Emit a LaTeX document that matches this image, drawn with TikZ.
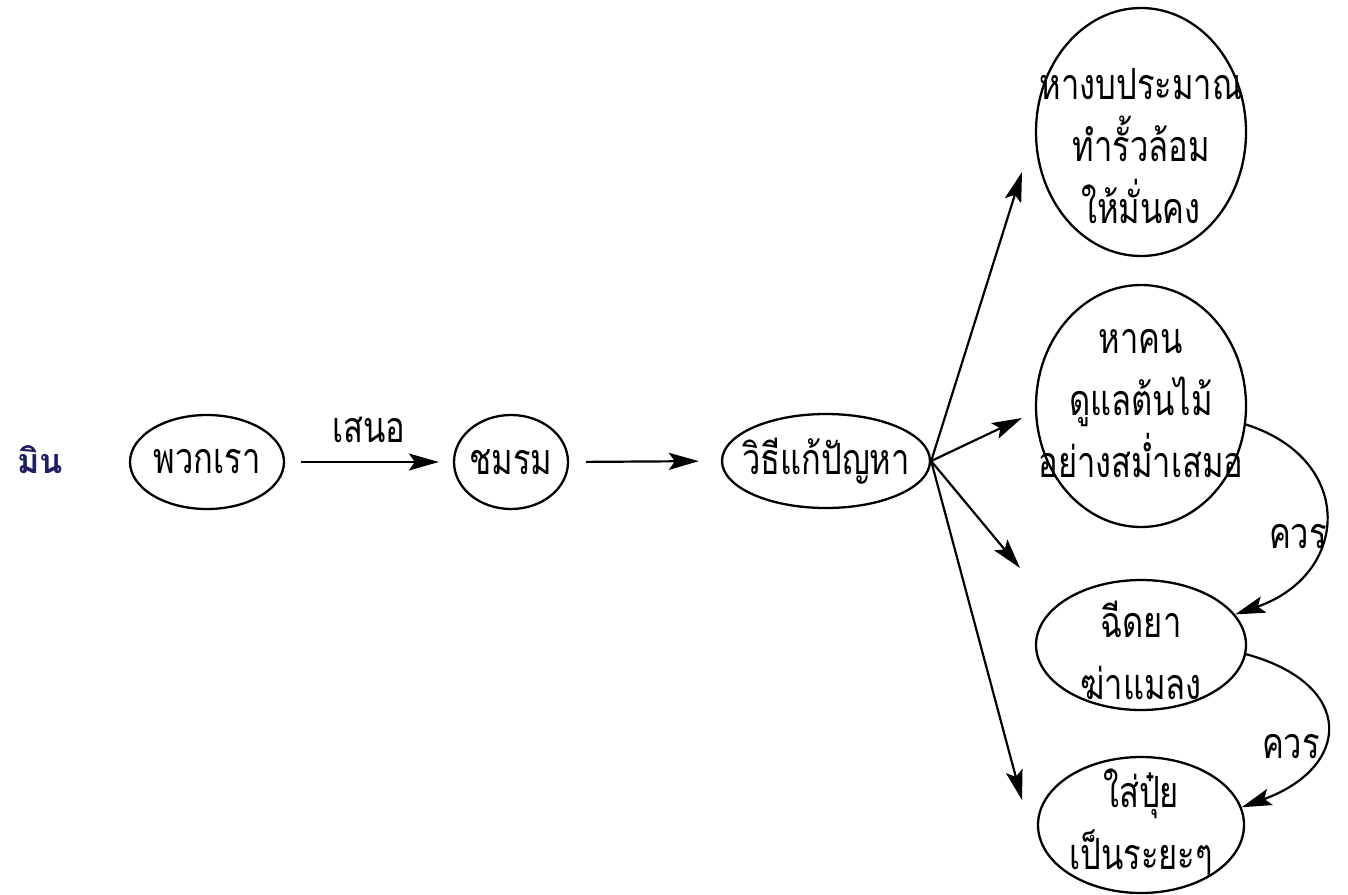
\documentclass[tikz,border=0pt]{standalone}
\usepackage{fontspec}
\newfontfamily\thaifont[Script=Thai,FakeStretch=0.76]{Loma}
\newfontfamily\thaibold[Script=Thai]{Loma}
\usetikzlibrary{shapes.geometric,arrows.meta}
\definecolor{navy}{HTML}{1E1E64}
\begin{document}
\begin{tikzpicture}[x=0.5pt,y=-0.5pt,
  every node/.style={font=\thaifont\fontsize{21.5}{31}\selectfont},
  blob/.style={draw, ellipse, line width=1.15pt, inner sep=0pt},
  txt/.style={align=center, inner sep=0pt},
  arr/.style={-{Stealth[length=15pt,width=8.5pt,inset=3pt]}, line width=1.1pt}]
\useasboundingbox (0,0) rectangle (1348,894);

\node[txt, text=navy, font=\thaibold\bfseries\fontsize{17}{22}\selectfont] (min) at (40,460) {มิน};

\node[blob, minimum width=154pt*0.5, minimum height=94pt*0.5] (p) at (207,462) {};
\node[txt] (pt) at (p) {พวกเรา};
\node[blob, minimum width=114pt*0.5, minimum height=94pt*0.5] (s) at (511,462) {};
\node[txt] (st) at (s) {ชมรม};
\node[blob, minimum width=208pt*0.5, minimum height=94pt*0.5] (v) at (826,461) {};
\node[txt] (vt) at (v) {วิธีแก้ปัญหา};

\node[blob, minimum width=210pt*0.5, minimum height=248pt*0.5] (c1) at (1141,132) {};
\node[txt] (c1t) at (1141,146) {หางบประมาณ\\ทำรั้วล้อม\\ให้มั่นคง};
\node[blob, minimum width=210pt*0.5, minimum height=242pt*0.5] (c2) at (1141,406) {};
\node[txt] (c2t) at (1141,404) {หาคน\\ดูแลต้นไม้\\อย่างสม่ำเสมอ};
\node[blob, minimum width=210pt*0.5, minimum height=130pt*0.5] (e3) at (1141,645) {};
\node[txt] (e3t) at (1141,650) {ฉีดยา\\ฆ่าแมลง};
\node[blob, minimum width=206pt*0.5, minimum height=136pt*0.5] (e4) at (1141,825) {};
\node[txt] (e4t) at (1141,823) {ใส่ปุ๋ย\\เป็นระยะๆ};

\draw[arr, shorten <=8pt, shorten >=7pt] (p.east) -- node[above=9pt, txt] (lbl1) {เสนอ} (s.west);
\draw[arr, shorten <=8.5pt, shorten >=11pt] (s.east) -- (v.west);

\coordinate (a1) at (1022,172);
\coordinate (a2) at (1022,418);
\coordinate (a3) at (1020,568);
\coordinate (a4) at (1022,800);
\draw[arr] (v.east) -- (a1);
\draw[arr] (v.east) -- (a2);
\draw[arr] (v.east) -- (a3);
\draw[arr] (v.east) -- (a4);

\draw[arr] (c2.-10) .. controls +(110,35) and +(115,-40) .. (e3.18);
\draw[arr] (e3.-5) .. controls +(110,30) and +(110,-40) .. (e4.10);
\node[txt] (k1) at (1298,537) {ควร};
\node[txt] (k2) at (1291,747) {ควร};
\end{tikzpicture}
\end{document}
